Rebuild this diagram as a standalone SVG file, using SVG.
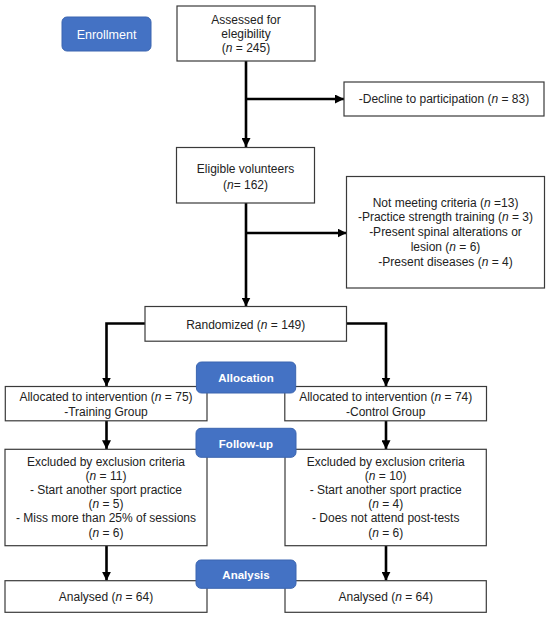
<svg xmlns="http://www.w3.org/2000/svg" width="550" height="619" viewBox="0 0 550 619">
<style>
.box{fill:#fff;stroke:#3a3a3a;stroke-width:1.2}
.btn{fill:#4472C4;stroke:#3b65b0;stroke-width:1}
.t{font-family:"Liberation Sans",Arial,sans-serif;font-size:12px;fill:#222;text-anchor:middle}
.bt{font-family:"Liberation Sans",Arial,sans-serif;font-size:12px;fill:#fff;text-anchor:middle}
.c{fill:none;stroke:#000;stroke-width:2.6}
.i{font-style:italic}
</style>
<defs>
<marker id="ah" markerUnits="userSpaceOnUse" markerWidth="9" markerHeight="9" refX="9" refY="4.5" orient="auto">
<path d="M0,0 L9,4.5 L0,9 z" fill="#000"/>
</marker>
</defs>
<g id="connectors">
<line class="c" x1="246" y1="61" x2="246" y2="147" marker-end="url(#ah)"/>
<line class="c" x1="246" y1="99" x2="344" y2="99" marker-end="url(#ah)"/>
<line class="c" x1="246" y1="203" x2="246" y2="306.5" marker-end="url(#ah)"/>
<line class="c" x1="246" y1="233" x2="346.5" y2="233" marker-end="url(#ah)"/>
<polyline class="c" points="145,323.5 106.5,323.5 106.5,386.5" marker-end="url(#ah)"/>
<polyline class="c" points="346.5,323.5 386,323.5 386,386.5" marker-end="url(#ah)"/>
<line class="c" x1="106.5" y1="421" x2="106.5" y2="449.3" marker-end="url(#ah)"/>
<line class="c" x1="386" y1="421" x2="386" y2="449.3" marker-end="url(#ah)"/>
<line class="c" x1="106.5" y1="545.7" x2="106.5" y2="580.7" marker-end="url(#ah)"/>
<line class="c" x1="386" y1="545.7" x2="386" y2="580.7" marker-end="url(#ah)"/>
</g>
<g id="enrollment">
<rect class="btn" x="62" y="17" width="89" height="34" rx="5"/>
<text class="bt" x="106.5" y="38.5" style="font-size:12.5px">Enrollment</text>
</g>
<g id="assessed">
<rect class="box" x="177" y="6" width="138" height="55"/>
<text class="t" x="246" y="24">Assessed for</text>
<text class="t" x="246" y="38">elegibility</text>
<text class="t" x="246" y="52">(<tspan class="i">n</tspan> = 245)</text>
</g>
<g id="decline">
<rect class="box" x="344" y="82" width="200" height="34"/>
<text class="t" x="444" y="103">-Decline to participation (<tspan class="i">n</tspan> = 83)</text>
</g>
<g id="eligible">
<rect class="box" x="176.5" y="147.5" width="138" height="55.5"/>
<text class="t" x="245.5" y="173">Eligible volunteers</text>
<text class="t" x="245.5" y="189">(<tspan class="i">n</tspan>= 162)</text>
</g>
<g id="notmeeting">
<rect class="box" x="346.5" y="176.5" width="198" height="111.5"/>
<text class="t" x="445.5" y="206.5">Not meeting criteria (<tspan class="i">n</tspan> =13)</text>
<text class="t" x="445.5" y="221.3">-Practice strength training (<tspan class="i">n</tspan> = 3)</text>
<text class="t" x="445.5" y="236">-Present spinal alterations or</text>
<text class="t" x="445.5" y="250.7">lesion (<tspan class="i">n</tspan> = 6)</text>
<text class="t" x="445.5" y="266">-Present diseases (<tspan class="i">n</tspan> = 4)</text>
</g>
<g id="randomized">
<rect class="box" x="145" y="306.5" width="201.5" height="34.7"/>
<text class="t" x="245.7" y="328.5">Randomized (<tspan class="i">n</tspan> = 149)</text>
</g>
<g id="alloc-left">
<rect class="box" x="5.3" y="386.5" width="201.7" height="34.3"/>
<text class="t" x="106" y="401">Allocated to intervention (<tspan class="i">n</tspan> = 75)</text>
<text class="t" x="106" y="415.7">-Training Group</text>
</g>
<g id="alloc-right">
<rect class="box" x="284.8" y="386.5" width="201.7" height="34.3"/>
<text class="t" x="385.7" y="401">Allocated to intervention (<tspan class="i">n</tspan> = 74)</text>
<text class="t" x="385.7" y="415.7">-Control Group</text>
</g>
<g id="allocation">
<rect class="btn" x="196.4" y="362" width="99.3" height="31" rx="5"/>
<text class="bt" x="246" y="382" style="font-weight:bold;font-size:11.5px">Allocation</text>
</g>
<g id="excl-left">
<rect class="box" x="5" y="449.3" width="202" height="96.4"/>
<text class="t" x="106" y="466.3">Excluded by exclusion criteria</text>
<text class="t" x="106" y="480">(<tspan class="i">n</tspan> = 11)</text>
<text class="t" x="106" y="494">- Start another sport practice</text>
<text class="t" x="106" y="508.3">(<tspan class="i">n</tspan> = 5)</text>
<text class="t" x="106" y="522.3">- Miss more than 25% of sessions</text>
<text class="t" x="106" y="536.7">(<tspan class="i">n</tspan> = 6)</text>
</g>
<g id="excl-right">
<rect class="box" x="285" y="449.3" width="201.3" height="96.4"/>
<text class="t" x="385.7" y="466.3">Excluded by exclusion criteria</text>
<text class="t" x="385.7" y="480">(<tspan class="i">n</tspan> = 10)</text>
<text class="t" x="385.7" y="494">- Start another sport practice</text>
<text class="t" x="385.7" y="508.3">(<tspan class="i">n</tspan> = 4)</text>
<text class="t" x="385.7" y="522.3">- Does not attend post-tests</text>
<text class="t" x="385.7" y="536.7">(<tspan class="i">n</tspan> = 6)</text>
</g>
<g id="followup">
<rect class="btn" x="196" y="428.3" width="100" height="29" rx="5"/>
<text class="bt" x="246" y="447.5" style="font-weight:bold;font-size:11.5px">Follow-up</text>
</g>
<g id="anal-left">
<rect class="box" x="5" y="580.7" width="202" height="31.6"/>
<text class="t" x="106" y="600.7">Analysed (<tspan class="i">n</tspan> = 64)</text>
</g>
<g id="anal-right">
<rect class="box" x="285" y="580.7" width="201.3" height="31.6"/>
<text class="t" x="385.7" y="600.7">Analysed (<tspan class="i">n</tspan> = 64)</text>
</g>
<g id="analysis">
<rect class="btn" x="196" y="560" width="100" height="28.3" rx="5"/>
<text class="bt" x="246" y="578.5" style="font-weight:bold;font-size:11.5px">Analysis</text>
</g>
</svg>
